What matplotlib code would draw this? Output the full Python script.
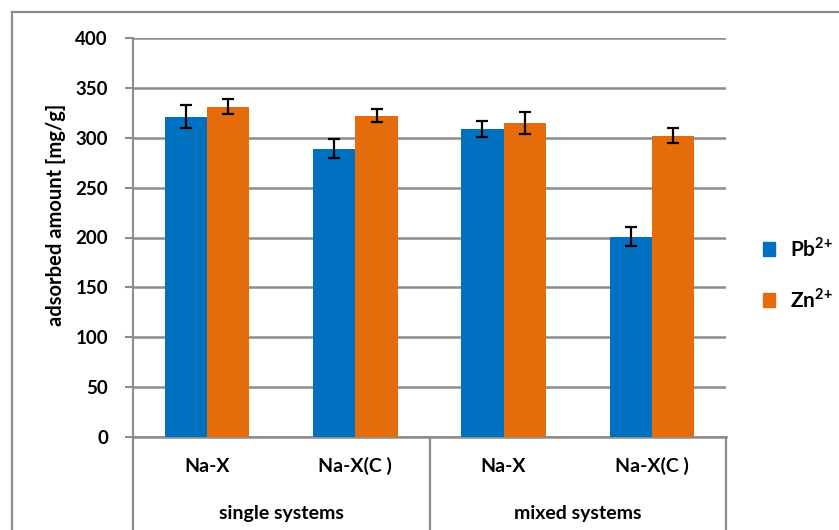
import matplotlib
matplotlib.use("Agg")
import matplotlib.pyplot as plt
import numpy as np
from matplotlib.lines import Line2D
from matplotlib.patches import Rectangle

# data
categories = ["Na-X", "Na-X(C )", "Na-X", "Na-X(C )"]
groups = ["single systems", "mixed systems"]
pb_values = [321, 289, 309, 201]
pb_err = [11.5, 9.5, 8, 10]
zn_values = [331, 322, 315, 302]
zn_err = [7.5, 6.5, 11, 7.5]
series_labels = [r"Pb$^{\mathbf{2{+}}}$", r"Zn$^{\mathbf{2{+}}}$"]
yticks = [0, 50, 100, 150, 200, 250, 300, 350, 400]

BLUE = "#0070C0"
ORANGE = "#E46C0A"
GRID = "#8C8C8C"

plt.rcParams["font.family"] = ["Lato", "DejaVu Sans"]
plt.rcParams["mathtext.fontset"] = "custom"
plt.rcParams["mathtext.rm"] = "Lato"
plt.rcParams["mathtext.bf"] = "Lato:bold"

W, H = 839, 530
fig = plt.figure(figsize=(W / 100, H / 100), dpi=100)

# outer chart frame (top and left edges visible)
fig.add_artist(Line2D([12 / W, 12 / W], [0, 1 - 12 / H], color=GRID, lw=1.6,
                      transform=fig.transFigure))
fig.add_artist(Line2D([12 / W, 1], [1 - 12 / H, 1 - 12 / H], color=GRID, lw=1.6,
                      transform=fig.transFigure))

x0, x1 = 133 / W, 726 / W
y0, y1 = 1 - 437 / H, 1 - 38 / H
ax = fig.add_axes([x0, y0, x1 - x0, y1 - y0])

x = np.arange(len(categories))
bw = 0.285
ek = dict(ecolor="black", elinewidth=1.6, capsize=4.5, capthick=1.6)
ax.bar(x - bw / 2, pb_values, bw, color=BLUE, yerr=pb_err, error_kw=ek,
       label=series_labels[0], zorder=3)
ax.bar(x + bw / 2, zn_values, bw, color=ORANGE, yerr=zn_err, error_kw=ek,
       label=series_labels[1], zorder=3)

ax.set_xlim(-0.5, len(categories) - 0.5)
ax.set_ylim(0, 400)
ax.set_yticks(yticks)
ax.set_yticklabels([str(t) for t in yticks], fontsize=13.5, fontweight="bold")
ax.yaxis.grid(True, color=GRID, lw=1.8, zorder=0)
ax.set_axisbelow(True)
ax.tick_params(axis="y", length=6, width=1.5, color=GRID, pad=12)
ax.tick_params(axis="x", bottom=False, labelbottom=False)
for s in ["top", "right"]:
    ax.spines[s].set_visible(False)
ax.spines["left"].set_color(GRID)
ax.spines["left"].set_linewidth(1.5)
ax.spines["bottom"].set_color(GRID)
ax.spines["bottom"].set_linewidth(1.8)

span = 437 - 38
ax.set_ylabel("adsorbed amount [mg/g]", fontsize=14.5, fontweight="bold",
              va="center")
ax.yaxis.set_label_coords((56 - 133) / 593, (437 - 215) / span)

# category labels and group separators below the axis
trans = ax.get_xaxis_transform()
for i, c in enumerate(categories):
    ax.text(i, -29 / span, c, transform=trans, ha="center",
            va="center", fontsize=14, fontweight="bold")
for g, gname in enumerate(groups):
    ax.text(2 * g + 0.5, -77 / span, gname, transform=trans, ha="center",
            va="center", fontsize=14, fontweight="bold")
for xv in [-0.5, 1.5, 3.5]:
    ax.add_artist(Line2D([xv, xv], [0, -92 / span], color=GRID, lw=1.6,
                         transform=trans, clip_on=False))

handles = [Rectangle((0, 0), 1, 1, color=BLUE), Rectangle((0, 0), 1, 1, color=ORANGE)]
fig.legend(handles, series_labels, loc="center left",
           bbox_to_anchor=(744 / W, 1 - 274 / H), frameon=False,
           handlelength=0.6, handleheight=0.6, handletextpad=0.7,
           labelspacing=1.3, prop={"size": 15, "weight": "bold"})

fig.savefig("out.png", dpi=100)
